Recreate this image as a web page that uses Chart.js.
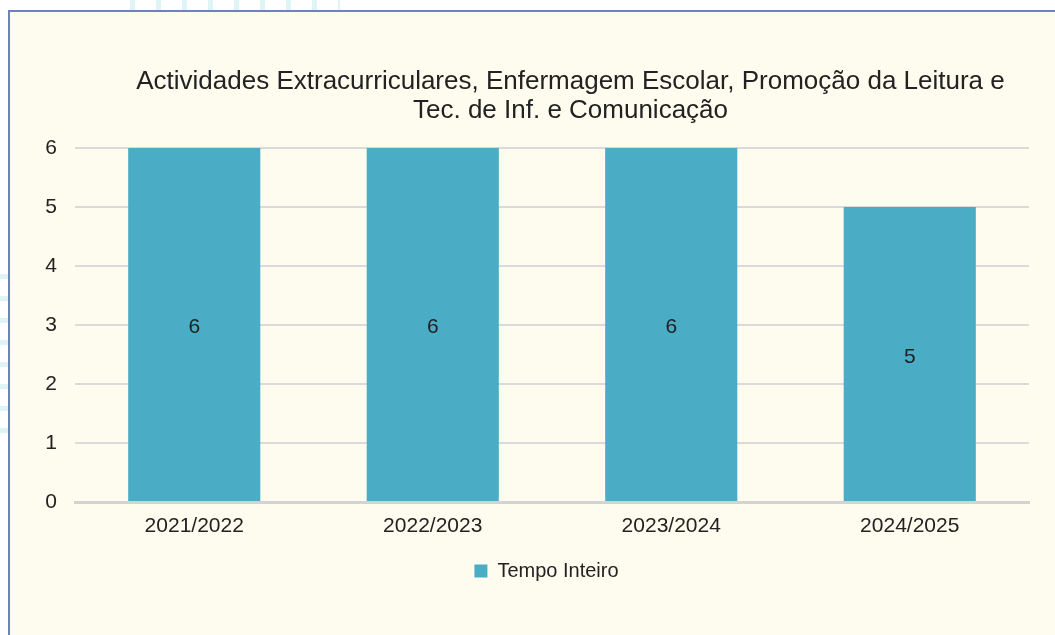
<!DOCTYPE html>
<html>
<head>
<meta charset="utf-8">
<script src="https://cdn.jsdelivr.net/npm/chart.js@4/dist/chart.umd.min.js"></script>
<style>
  html, body { margin: 0; padding: 0; background: #ffffff; }
  body { width: 1055px; height: 635px; position: relative; overflow: hidden; }
  .deco-top {
    position: absolute; left: 130px; top: 0; width: 210px; height: 10px;
    background: repeating-linear-gradient(90deg, #dff4f4 0 5px, transparent 5px 26px);
  }
  .deco-left {
    position: absolute; left: 0; top: 274px; width: 8px; height: 166px;
    background: repeating-linear-gradient(180deg, #dff4f4 0 5px, transparent 5px 22px);
  }
  .box {
    position: absolute; left: 8px; top: 10px; right: 0; bottom: 0;
    background: #fefcee;
    border-left: 2px solid #7083b8; border-top: 2px solid #7083b8;
  }
  canvas { position: absolute; left: 0; top: 0; }
</style>
</head>
<body>
<div class="deco-top"></div>
<div class="deco-left"></div>
<div class="box"></div>
<canvas id="chart" width="1055" height="635"></canvas>
<script>
// chart data
const categories = ['2021/2022', '2022/2023', '2023/2024', '2024/2025'];
const tempoInteiro = [6, 6, 6, 5];
const yTicks = [0, 1, 2, 3, 4, 5, 6];
const chartTitle = ['Actividades Extracurriculares, Enfermagem Escolar, Promoção da Leitura e', 'Tec. de Inf. e Comunicação'];

const textColor = '#222222';
const barColor = '#4bacc6';
const fontFamily = '"Liberation Sans", Arial, sans-serif';

// labels in the middle of each bar
const barLabels = {
    id: 'barLabels',
    afterDatasetsDraw(chart) {
        const ctx = chart.ctx;
        const meta = chart.getDatasetMeta(0);
        ctx.save();
        ctx.font = '21px ' + fontFamily;
        ctx.fillStyle = textColor;
        ctx.textAlign = 'center';
        ctx.textBaseline = 'middle';
        meta.data.forEach((bar, i) => {
            const y = (bar.y + bar.base) / 2 + 3;
            ctx.fillText(String(tempoInteiro[i]), bar.x, y);
        });
        ctx.restore();
    }
};

// title and legend sit a bit right of the page centre
const shiftBlocks = {
    id: 'shiftBlocks',
    afterLayout(chart) {
        if (chart.titleBlock) {
            chart.titleBlock.left += 56;
            chart.titleBlock.right += 56;
        }
        if (chart.legend) {
            chart.legend.left += 32;
            chart.legend.right += 32;
            chart.legend.legendHitBoxes.forEach(b => { b.left += 32; });
        }
    }
};

new Chart(document.getElementById('chart').getContext('2d'), {
    type: 'bar',
    data: {
        labels: categories,
        datasets: [{
            label: 'Tempo Inteiro',
            data: tempoInteiro,
            backgroundColor: barColor,
            borderWidth: 0,
            categoryPercentage: 1,
            barPercentage: 0.554
        }]
    },
    options: {
        responsive: false,
        animation: false,
        devicePixelRatio: 1,
        layout: { padding: { left: 0, right: 26, top: 67, bottom: 44 } },
        plugins: {
            title: {
                display: true,
                text: chartTitle,
                color: textColor,
                font: { family: fontFamily, size: 26, weight: 'normal', lineHeight: 1.115 },
                padding: { top: 0, bottom: 23 }
            },
            legend: {
                position: 'bottom',
                labels: {
                    color: textColor,
                    boxWidth: 13,
                    boxHeight: 13,
                    padding: 14,
                    font: { family: fontFamily, size: 20 }
                }
            },
            tooltip: { enabled: false }
        },
        scales: {
            x: {
                grid: { display: false, drawTicks: false },
                border: { color: '#d3d3d3', width: 3 },
                ticks: {
                    color: textColor,
                    padding: 12,
                    font: { family: fontFamily, size: 21 }
                },
                afterFit(axis) { axis.height = 45; }
            },
            y: {
                min: 0,
                max: 6,
                afterBuildTicks(axis) { axis.ticks = yTicks.map(v => ({ value: v })); },
                grid: { color: '#dadada', lineWidth: 2, drawTicks: false },
                border: { display: false },
                ticks: {
                    color: textColor,
                    padding: 18,
                    font: { family: fontFamily, size: 21 }
                },
                afterFit(axis) { axis.width = 75; }
            }
        }
    },
    plugins: [barLabels, shiftBlocks]
});
</script>
</body>
</html>
